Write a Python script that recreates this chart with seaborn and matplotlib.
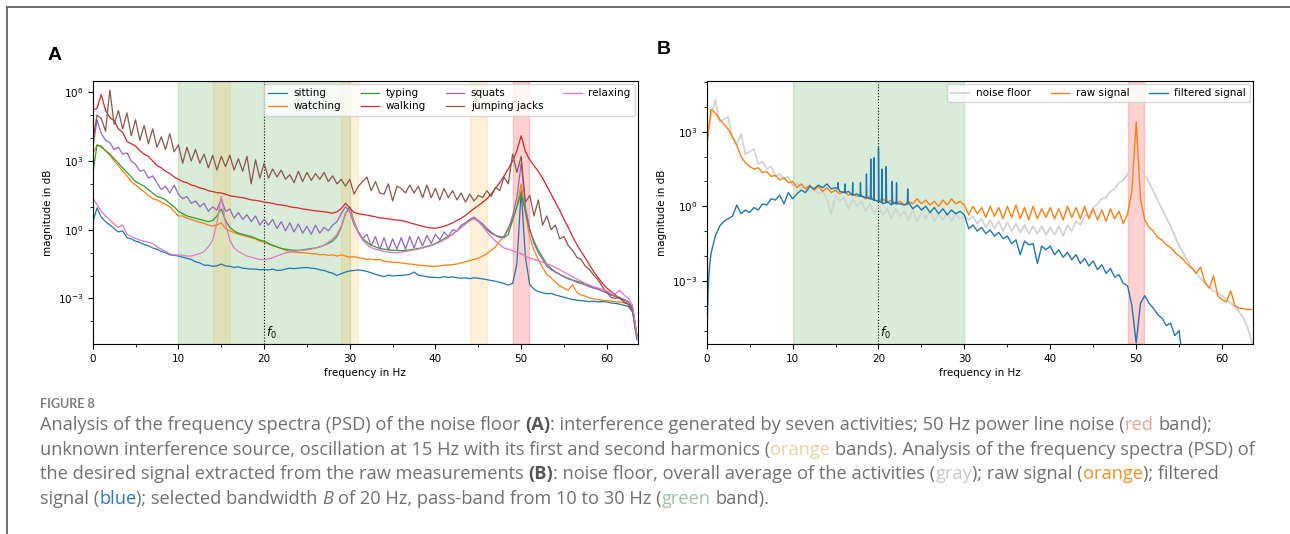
import numpy as np
import matplotlib
matplotlib.use("Agg")
import matplotlib.pyplot as plt
import seaborn as sns
from matplotlib.lines import Line2D
from matplotlib.ticker import FixedLocator, MultipleLocator, NullFormatter, LogFormatterSciNotation

# ---------------------------------------------------------------- data
# frequency grid in Hz (0.5 Hz spacing)
freq = np.arange(128) * 0.5

# panel A: PSD of the noise floor per activity, log10 of magnitude
sitting = [
    0.3, 0.95, 0.55, 0.35, 0.2, 0.05, -0.1, -0.05, -0.35, -0.4,
    -0.5, -0.55, -0.65, -0.7, -0.8, -0.85, -0.95, -1.0, -1.1, -1.12,
    -1.15, -1.2, -1.25, -1.3, -1.4, -1.45, -1.55, -1.55, -1.6, -1.58,
    -1.5, -1.58, -1.6, -1.65, -1.62, -1.68, -1.7, -1.72, -1.72, -1.75,
    -1.74, -1.76, -1.72, -1.78, -1.77, -1.72, -1.68, -1.7, -1.68, -1.66,
    -1.65, -1.68, -1.7, -1.75, -1.78, -1.85, -1.9, -2.0, -1.92, -1.85,
    -1.8, -1.78, -1.76, -1.78, -1.82, -1.88, -1.95, -2.0, -2.05, -1.98,
    -2.02, -2.0, -2.0, -1.98, -1.95, -1.85, -1.98, -2.02, -2.05, -2.08,
    -2.08, -2.1, -2.05, -2.08, -2.06, -2.1, -2.12, -2.1, -2.14, -2.1,
    -2.12, -2.15, -2.18, -2.22, -2.25, -2.3, -2.35, -2.42, -2.35, -1.5,
    1.7, -1.2, -2.4, -2.6, -2.7, -2.75, -2.8, -2.78, -2.85, -2.9,
    -2.95, -3.0, -3.05, -3.08, -3.1, -3.12, -3.14, -3.12, -3.15, -3.14,
    -3.15, -3.2, -3.22, -3.25, -3.3, -3.35, -3.6, -4.8]
watching = [
    3.3, 3.7, 3.6, 3.45, 3.25, 3.0, 2.8, 2.55, 2.35, 2.1,
    1.95, 1.8, 1.65, 1.5, 1.35, 1.3, 1.2, 1.1, 1.0, 0.8,
    0.6, 0.6, 0.5, 0.45, 0.38, 0.32, 0.28, 0.2, 0.15, 0.2,
    0.3, 0.05, -0.05, -0.12, -0.2, -0.25, -0.3, -0.35, -0.4, -0.5,
    -0.55, -0.62, -0.7, -0.75, -0.82, -0.9, -0.95, -0.98, -1.0, -1.0,
    -1.02, -1.05, -1.05, -1.1, -1.08, -1.12, -1.1, -1.15, -1.1, -1.15,
    -1.2, -1.18, -1.22, -1.25, -1.3, -1.28, -1.32, -1.3, -1.38, -1.4,
    -1.42, -1.43, -1.45, -1.48, -1.5, -1.52, -1.55, -1.56, -1.58, -1.6,
    -1.6, -1.58, -1.55, -1.55, -1.52, -1.5, -1.45, -1.4, -1.35, -1.3,
    -1.25, -1.15, -1.05, -0.9, -0.75, -0.5, -0.3, 0.1, 0.45, 1.0,
    2.0, 0.7, -0.3, -0.9, -1.3, -1.65, -1.95, -2.1, -2.3, -2.45,
    -2.55, -2.65, -2.4, -2.75, -2.85, -2.9, -2.98, -3.02, -3.05, -3.08,
    -3.1, -3.12, -3.15, -3.15, -3.2, -3.25, -3.5, -4.7]
typing = [
    2.4, 3.7, 3.65, 3.45, 3.3, 3.1, 2.9, 2.7, 2.5, 2.3,
    2.1, 2.0, 1.9, 1.75, 1.6, 1.45, 1.4, 1.3, 1.15, 1.0,
    0.8, 0.7, 0.6, 0.55, 0.5, 0.45, 0.4, 0.35, 0.4, 0.6,
    0.9, 0.4, 0.1, -0.05, -0.15, -0.2, -0.25, -0.3, -0.38, -0.45,
    -0.5, -0.6, -0.68, -0.75, -0.82, -0.85, -0.88, -0.9, -0.9, -0.88,
    -0.85, -0.82, -0.8, -0.75, -0.68, -0.6, -0.5, -0.3, 0.1, 0.7,
    1.0, 0.35, -0.1, -0.4, -0.55, -0.68, -0.75, -0.82, -0.85, -0.88,
    -0.9, -0.9, -0.92, -0.9, -0.88, -0.85, -0.82, -0.78, -0.72, -0.68,
    -0.6, -0.5, -0.4, -0.3, -0.2, -0.05, 0.1, 0.25, 0.4, 0.5,
    0.38, 0.2, 0.0, -0.15, -0.25, -0.3, -0.35, -0.2, 0.4, 1.0,
    1.6, 0.8, 0.0, -0.5, -0.9, -1.2, -1.5, -1.7, -1.85, -1.95,
    -2.05, -2.12, -2.2, -2.25, -2.3, -2.38, -2.45, -2.52, -2.6, -2.68,
    -2.75, -2.85, -2.92, -3.0, -3.05, -3.15, -3.4, -4.6]
walking = [
    5.2, 5.3, 5.9, 5.2, 4.9, 4.75, 4.4, 4.25, 3.85, 3.75,
    3.65, 3.45, 3.3, 3.2, 3.0, 2.8, 2.7, 2.55, 2.45, 2.3,
    2.2, 2.1, 2.05, 1.95, 1.9, 1.82, 1.78, 1.7, 1.66, 1.62,
    1.6, 1.55, 1.48, 1.45, 1.42, 1.4, 1.35, 1.3, 1.28, 1.25,
    1.2, 1.18, 1.15, 1.1, 1.08, 1.05, 1.0, 0.97, 0.95, 0.9,
    0.88, 0.85, 0.82, 0.8, 0.78, 0.75, 0.72, 0.78, 0.92, 1.15,
    0.95, 0.75, 0.7, 0.66, 0.64, 0.6, 0.56, 0.52, 0.5, 0.47,
    0.44, 0.42, 0.4, 0.36, 0.3, 0.25, 0.2, 0.15, 0.1, 0.08,
    0.06, 0.1, 0.15, 0.22, 0.3, 0.4, 0.5, 0.62, 0.78, 0.92,
    1.05, 1.2, 1.35, 1.55, 1.8, 2.05, 2.35, 2.65, 3.0, 3.45,
    4.1, 3.4, 3.05, 2.8, 2.55, 2.25, 1.9, 1.55, 1.2, 0.85,
    0.45, 0.1, -0.3, -0.65, -0.95, -1.25, -1.55, -1.85, -2.1, -2.35,
    -2.55, -2.7, -2.85, -3.0, -3.15, -3.25, -3.45, -4.6]
squats = [
    3.5, 4.8, 4.2, 3.9, 3.8, 3.5, 3.6, 3.3, 3.35, 3.0,
    2.85, 2.55, 2.6, 2.25, 2.35, 2.05, 1.75, 1.9, 1.6, 1.95,
    1.55, 1.35, 1.45, 1.15, 1.25, 1.0, 1.15, 0.8, 1.0, 0.85,
    1.35, 0.8, 0.9, 0.5, 0.75, 0.45, 0.65, 0.35, 0.6, 0.2,
    0.45, 0.2, 0.45, 0.05, 0.35, -0.05, 0.3, -0.1, 0.25, -0.15,
    0.15, -0.2, 0.2, -0.15, 0.1, -0.05, 0.2, 0.35, 0.7, 1.0,
    0.8, 0.2, -0.1, -0.4, -0.2, -0.7, -0.3, -0.85, -0.35, -0.9,
    -0.4, -0.85, -0.35, -0.85, -0.3, -0.8, -0.3, -0.7, -0.25, -0.6,
    -0.2, -0.45, -0.1, -0.3, 0.0, -0.05, 0.2, 0.3, 0.45, 0.55,
    0.4, 0.25, 0.05, -0.1, -0.25, -0.35, -0.3, 0.0, 0.6, 1.4,
    2.9, 1.0, 0.0, -0.6, -1.0, -1.3, -1.6, -1.75, -1.85, -1.95,
    -2.05, -2.15, -2.2, -2.3, -2.35, -2.42, -2.5, -2.55, -2.6, -2.68,
    -2.75, -2.82, -2.9, -2.98, -3.05, -3.15, -3.4, -4.7]
jumping_jacks = [
    3.85, 5.0, 4.86, 4.3, 6.1, 4.6, 5.2, 4.4, 5.1, 4.1,
    4.8, 3.9, 4.55, 3.75, 4.4, 3.6, 4.05, 3.5, 4.2, 3.4,
    3.7, 2.9, 3.6, 3.0, 3.5, 2.9, 3.3, 2.7, 3.25, 2.6,
    3.2, 2.75, 3.25, 2.6, 3.1, 2.55, 3.2, 2.0, 3.05, 2.25,
    2.9, 2.25, 2.65, 2.3, 2.6, 2.2, 2.4, 2.05, 2.55, 2.1,
    2.5, 2.15, 2.45, 2.2, 2.5, 2.1, 2.35, 2.0, 2.2, 1.9,
    2.2, 1.55, 1.9, 2.1, 2.3, 1.7, 2.1, 1.6, 1.55, 2.0,
    1.25, 1.9, 1.8, 1.6, 1.95, 1.6, 1.9, 1.4, 1.95, 1.4,
    1.8, 1.3, 1.8, 1.4, 1.7, 1.3, 1.6, 1.2, 1.55, 1.25,
    1.5, 1.4, 1.7, 1.45, 1.85, 1.7, 2.3, 2.0, 3.3, 2.5,
    3.2, 1.2, 1.5, 0.6, 1.3, 0.2, 0.6, 0.0, 0.2, -0.4,
    -0.3, -0.7, -0.9, -1.2, -1.3, -1.6, -1.75, -2.0, -2.2, -2.5,
    -2.75, -2.95, -3.0, -2.95, -3.15, -3.25, -3.5, -4.6]
relaxing = [
    1.4, 1.1, 0.8, 0.6, 0.42, 0.25, 0.1, 0.2, -0.2, -0.3,
    -0.38, -0.45, -0.5, -0.55, -0.6, -0.75, -0.85, -0.95, -1.05, -1.1,
    -1.1, -1.12, -1.15, -1.15, -1.1, -1.05, -0.95, -0.75, -0.45, 0.3,
    1.45, 0.3, -0.45, -0.8, -0.95, -1.05, -1.15, -1.2, -1.25, -1.3,
    -1.3, -1.28, -1.22, -1.15, -1.08, -1.02, -0.98, -0.95, -0.92, -0.9,
    -0.88, -0.85, -0.8, -0.75, -0.68, -0.55, -0.4, -0.2, 0.15, 0.7,
    0.9, 0.3, -0.15, -0.45, -0.65, -0.78, -0.85, -0.9, -0.95, -0.98,
    -1.0, -1.0, -0.98, -0.95, -0.92, -0.88, -0.85, -0.8, -0.75, -0.7,
    -0.62, -0.55, -0.45, -0.35, -0.2, -0.05, 0.1, 0.25, 0.4, 0.48,
    0.35, 0.15, -0.1, -0.3, -0.5, -0.65, -0.8, -0.85, -0.92, -0.98,
    -1.05, -1.15, -1.25, -1.3, -1.35, -1.42, -1.5, -1.55, -1.65, -1.75,
    -1.85, -1.95, -2.05, -2.15, -2.25, -2.35, -2.42, -2.5, -2.55, -2.6,
    -2.68, -2.75, -2.8, -2.65, -2.85, -3.0, -3.3, -4.6]

activities = ["sitting", "watching", "typing", "walking",
              "squats", "jumping jacks", "relaxing"]
activity_psd = [sitting, watching, typing, walking,
                squats, jumping_jacks, relaxing]

# panel B: noise floor, raw and filtered signal, log10 of magnitude
noise_floor = [
    2.6, 3.6, 4.3, 3.4, 3.5, 3.6, 2.7, 2.5, 2.9, 2.1,
    2.2, 2.3, 1.7, 1.8, 1.5, 1.6, 1.2, 1.3, 1.1, 1.2,
    0.85, 0.95, 0.75, 0.8, 0.6, 0.7, 0.5, 0.6, 0.3, -0.3,
    0.45, 0.2, 0.35, -0.1, 0.3, 0.0, 0.2, -0.2, 0.1, -0.3,
    0.0, -0.35, -0.1, -0.5, -0.1, -0.4, -0.2, -0.55, -0.15, -0.6,
    -0.25, -0.5, -0.2, -0.6, -0.3, -0.55, -0.25, -0.6, -0.3, -0.5,
    -0.35, -0.55, -0.4, -0.7, -0.5, -0.85, -0.55, -0.9, -0.6, -1.0,
    -0.65, -1.0, -0.7, -1.05, -0.75, -1.1, -0.8, -1.1, -0.8, -1.15,
    -0.85, -1.15, -0.8, -1.2, -0.75, -1.0, -0.6, -0.75, -0.35, -0.4,
    -0.05, 0.1, 0.3, 0.35, 0.6, 0.7, 0.95, 1.05, 1.3, 1.6,
    2.2, 1.5, 1.25, 0.95, 0.6, 0.25, -0.1, -0.45, -0.8, -1.2,
    -1.6, -1.9, -2.2, -2.45, -2.7, -2.9, -3.1, -3.25, -3.4, -3.5,
    -3.6, -3.75, -3.9, -4.05, -4.25, -4.5, -4.9, -5.5]
raw_signal = [
    2.4, 3.9, 3.75, 3.5, 3.3, 3.1, 2.8, 2.45, 2.0, 1.75,
    1.6, 1.5, 1.55, 1.35, 1.4, 1.2, 1.25, 1.05, 1.15, 0.95,
    1.0, 0.75, 0.9, 0.7, 0.85, 0.65, 0.8, 0.6, 0.75, 0.55,
    0.65, 0.5, 0.6, 0.45, 0.5, 0.4, 0.45, 0.3, 0.4, 0.25,
    0.2, 0.3, 0.15, 0.25, 0.1, 0.2, 0.05, 0.2, 0.1, 0.3,
    0.1, 0.25, 0.05, 0.2, 0.0, 0.25, 0.05, 0.3, 0.1, 0.2,
    0.05, -0.35, 0.0, -0.3, -0.05, -0.45, 0.0, -0.4, -0.05, -0.5,
    0.0, -0.45, 0.05, -0.5, -0.05, -0.55, 0.0, -0.5, -0.1, -0.45,
    -0.05, -0.5, -0.1, -0.55, 0.0, -0.45, -0.05, -0.5, 0.0, -0.5,
    -0.1, -0.55, -0.15, -0.6, -0.1, -0.5, -0.2, -0.7, -0.3, 0.6,
    3.4, 0.3, -0.55, -0.85, -1.0, -1.25, -1.35, -1.55, -1.65, -1.85,
    -2.0, -2.15, -2.35, -2.5, -2.7, -2.45, -3.05, -3.3, -2.8, -3.6,
    -3.75, -3.85, -3.4, -4.0, -4.1, -4.12, -4.15, -4.15]
filtered_signal = [
    -5.6, -1.9, -1.2, -0.8, -0.6, -0.5, -0.4, 0.05, -0.3, -0.15,
    -0.25, -0.05, -0.15, 0.1, 0.05, 0.3, 0.25, 0.45, 0.1, 0.55,
    0.3, 0.5, 0.65, 0.55, 0.8, 0.7, 0.85, 0.75, 0.9, 0.7,
    0.75, 0.6, 0.55, 0.6, 0.45, 0.5, 0.4, 0.35, 0.3, 0.25,
    0.2, 0.1, 0.2, 0.05, 0.15, 0.1, 0.05, 0.15, -0.1, 0.05,
    -0.15, 0.0, -0.25, -0.05, -0.3, -0.1, -0.35, -0.15, -0.3, -0.2,
    -0.35, -0.9, -0.75, -1.0, -0.85, -1.1, -0.95, -1.2, -1.05, -1.3,
    -1.2, -1.5, -1.35, -1.95, -1.4, -1.55, -1.5, -2.3, -1.6, -1.75,
    -1.6, -1.95, -1.75, -2.05, -1.85, -2.15, -1.95, -2.3, -2.1, -2.4,
    -2.2, -2.55, -2.35, -2.7, -2.5, -2.85, -2.75, -3.1, -3.2, -4.0,
    -5.5, -3.9, -3.6, -3.9, -4.1, -4.35, -4.5, -4.8, -4.7, -5.2,
    -5.0, -6.5] + [np.nan] * 16
# onset of the filtered spectrum just above 0 Hz: (frequency, log10 magnitude)
filtered_onset_f = [0.08, 0.16, 0.25, 0.35]
filtered_onset_v = [-4.5, -3.5, -2.8, -2.35]
# narrow lines inside the pass-band: frequency, base and top (log10)
spike_f = [15.3, 16.1, 17.0, 17.9, 18.6, 19.1, 19.5, 20.0, 20.4, 20.9, 21.6, 22.1, 23.4]
spike_base = [0.7, 0.55, 0.45, 0.4, 0.35, 0.3, 0.25, 0.2, 0.15, 0.15, 0.1, 0.1, 0.1]
spike_top = [0.95, 0.9, 0.95, 0.95, 1.3, 1.9, 1.95, 2.35, 1.5, 1.6, 1.0, 0.95, 0.7]

# ---------------------------------------------------------------- style
W_PX, H_PX = 1290, 534
fig = plt.figure(figsize=(W_PX / 100, H_PX / 100), dpi=100)
plt.rcParams["font.family"] = ["DejaVu Sans"]

TAB = sns.color_palette("tab10")
TICK_FS = 7.5
LEGEND_KW = dict(fontsize=7.5, handlelength=1.8, handletextpad=0.6,
                 columnspacing=1.9, borderaxespad=0.3, labelspacing=0.3)


def fx(px):
    return px / W_PX


def fy(px):
    return 1 - px / H_PX


def style_axis(ax, major, minor, ylim):
    ax.set_yscale("log")
    ax.set_xlim(0, 63.6)
    ax.set_ylim(*ylim)
    ax.xaxis.set_major_locator(MultipleLocator(10))
    ax.xaxis.set_minor_locator(MultipleLocator(5))
    ax.yaxis.set_major_locator(FixedLocator([10.0 ** k for k in major]))
    ax.yaxis.set_major_formatter(LogFormatterSciNotation())
    ax.yaxis.set_minor_locator(FixedLocator([10.0 ** k for k in minor]))
    ax.yaxis.set_minor_formatter(NullFormatter())
    ax.tick_params(labelsize=TICK_FS, length=3.5, width=0.8)
    ax.tick_params(which="minor", length=2, width=0.6)
    ax.set_xlabel("frequency in Hz", fontsize=TICK_FS, labelpad=3)
    ax.set_ylabel("magnitude in dB", fontsize=TICK_FS, labelpad=3)
    ax.axvline(20, color="black", ls=":", lw=0.8, zorder=1)
    ax.text(20.2, 0.012, r"$f_0$", transform=ax.get_xaxis_transform(),
            fontsize=8.5, ha="left", va="bottom")


# ---------------------------------------------------------------- panel A
axA = fig.add_axes([fx(92.7), fy(344), fx(637.7) - fx(92.7), fy(81) - fy(344)])
axA.axvspan(10, 30, color="green", alpha=0.15, lw=1, zorder=0)
for lo, hi in [(14, 16), (29, 31), (44, 46)]:
    axA.axvspan(lo, hi, color="orange", alpha=0.15, lw=1, zorder=0)
axA.axvspan(49.1, 50.9, color="red", alpha=0.18, lw=1, zorder=0)

for name, vals, col in zip(activities, activity_psd, TAB):
    sns.lineplot(x=freq, y=10.0 ** np.asarray(vals), color=col, lw=0.9,
                 label=name, ax=axA, estimator=None)

style_axis(axA, [-3, 0, 3, 6], [-5, -4, -2, -1, 1, 2, 4, 5],
           (10 ** -4.99, 10 ** 6.49))
axA.legend(loc="upper right", ncol=4, **LEGEND_KW)

# ---------------------------------------------------------------- panel B
axB = fig.add_axes([fx(706.7), fy(344), fx(1253) - fx(706.7), fy(81) - fy(344)])
axB.axvspan(10, 30, color="green", alpha=0.15, lw=1, zorder=0)
axB.axvspan(49.1, 50.9, color="red", alpha=0.18, lw=1, zorder=0)

sns.lineplot(x=freq, y=10.0 ** np.asarray(noise_floor), color="lightgray",
             lw=1.3, label="noise floor", ax=axB, estimator=None)
sns.lineplot(x=freq, y=10.0 ** np.asarray(raw_signal), color=TAB[1],
             lw=1.0, label="raw signal", ax=axB, estimator=None)

# filtered signal: grid values, onset points and narrow spectral lines
f_pts = list(freq) + filtered_onset_f
v_pts = list(filtered_signal) + filtered_onset_v
for f, b, t in zip(spike_f, spike_base, spike_top):
    f_pts += [f - 0.04, f, f + 0.04]
    v_pts += [b, t, b]
order = np.argsort(f_pts)
f_pts = np.asarray(f_pts)[order]
v_pts = np.asarray(v_pts)[order]
keep = ~np.isnan(v_pts)
sns.lineplot(x=f_pts[keep], y=10.0 ** v_pts[keep], color=TAB[0], lw=1.0,
             label="filtered signal", ax=axB, estimator=None, sort=False)

style_axis(axB, [-3, 0, 3], [-5, -4, -2, -1, 1, 2, 4, 5],
           (10 ** -5.54, 10 ** 5.04))
axB.legend(loc="upper right", ncol=3, **LEGEND_KW)

# ---------------------------------------------------------------- labels
fig.text(fx(48), fy(55), "A", fontsize=14, fontweight="bold",
         family="Liberation Sans", ha="left", va="center")
fig.text(fx(657), fy(50), "B", fontsize=14, fontweight="bold",
         family="Liberation Sans", ha="left", va="center")

# frame lines at top and left
fig.add_artist(Line2D([fx(7), 1], [fy(7), fy(7)], color="#555555", lw=1.2,
                      transform=fig.transFigure))
fig.add_artist(Line2D([fx(7), fx(7)], [0, fy(7)], color="#555555", lw=1.2,
                      transform=fig.transFigure))

# ---------------------------------------------------------------- caption
CAP_FONT = "Open Sans"
GREY = "#707070"
cap_colors = {"n": GREY, "b": "#555555", "red": "#e3a596", "orl": "#efcfa0",
              "gray": "#c9c9c9", "or": "#f7901e", "blue": "#2a7ab8",
              "green": "#a3c1a8"}
caption = [
    [("Analysis of the frequency spectra (PSD) of the noise floor ", "n", ""),
     ("(A)", "b", "bold"),
     (": interference generated by seven activities; 50 Hz power line noise (", "n", ""),
     ("red", "red", ""), (" band);", "n", "")],
    [("unknown interference source, oscillation at 15 Hz with its first and second harmonics (", "n", ""),
     ("orange", "orl", ""),
     (" bands). Analysis of the frequency spectra (PSD) of", "n", "")],
    [("the desired signal extracted from the raw measurements ", "n", ""),
     ("(B)", "b", "bold"),
     (": noise floor, overall average of the activities (", "n", ""),
     ("gray", "gray", ""), ("); raw signal (", "n", ""),
     ("orange", "or", ""), ("); filtered", "n", "")],
    [("signal (", "n", ""), ("blue", "blue", ""),
     ("); selected bandwidth ", "n", ""), ("B", "n", "italic"),
     (" of 20 Hz, pass-band from 10 to 30 Hz (", "n", ""),
     ("green", "green", ""), (" band).", "n", "")],
]
baselines = [430, 455, 479, 504]

renderer = fig.canvas.get_renderer()


def ink_width(s, size, style):
    kw = {"fontweight": "bold"} if style == "bold" else {}
    if style == "italic":
        kw = {"fontstyle": "italic"}
    t = fig.text(0, 0, s, fontsize=size, family=CAP_FONT, **kw)
    w = t.get_window_extent(renderer).width
    t.remove()
    return w


def seg_advance(s, size, style):
    # advance width including leading/trailing blanks
    bar = ink_width("||", size, style)
    return ink_width("|" + s + "|", size, style) - bar


def line_width(segs, size):
    return sum(seg_advance(s, size, st) for s, _, st in segs)


base_size = 11.0
cap_size = base_size * (1218 - 40) / line_width(caption[0], base_size)

for segs, yb in zip(caption, baselines):
    x = 40.0
    for s, ckey, st in segs:
        lead = len(s) - len(s.lstrip(" "))
        kw = {}
        if st == "bold":
            kw["fontweight"] = "bold"
        if st == "italic":
            kw["fontstyle"] = "italic"
        xs = x + seg_advance(" " * lead, cap_size, st) if lead else x
        fig.text(fx(xs), fy(yb), s.strip(" "), fontsize=cap_size,
                 family=CAP_FONT, color=cap_colors[ckey], ha="left",
                 va="baseline", **kw)
        x += seg_advance(s, cap_size, st)

fig.text(fx(40), fy(408), "FIGURE 8", fontsize=9, family="Lato",
         fontweight="bold", color="#7d7d7d", ha="left", va="baseline")

fig.savefig("out.png", dpi=100)
